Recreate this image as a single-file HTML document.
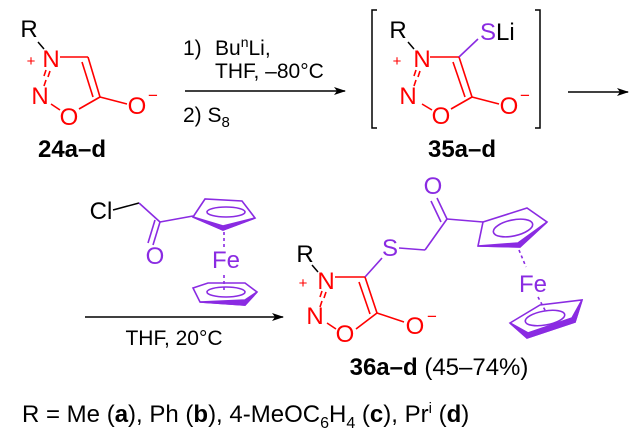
<!DOCTYPE html>
<html><head><meta charset="utf-8"><style>
html,body{margin:0;padding:0;background:#fff;}
svg{display:block;font-family:"Liberation Sans",sans-serif;}
</style></head><body>
<svg width="631" height="435" viewBox="0 0 631 435" xmlns="http://www.w3.org/2000/svg">
<defs><marker id="ah" markerWidth="12" markerHeight="8" refX="11" refY="4" orient="auto" markerUnits="userSpaceOnUse"><path d="M0,0 L12,4 L0,8 L3,4z" fill="#000"/></marker></defs>
<g font-size="24" text-anchor="middle">
<!-- 24 -->
<text x="29" y="37">R</text>
<line x1="38" y1="42" x2="44" y2="49" stroke="#000" stroke-width="1.5"/>
<g fill="#f00">
<text x="51" y="67">N</text><text x="31" y="66" font-size="15">+</text>
<text x="40" y="104">N</text><text x="69" y="125">O</text>
<text x="137" y="114">O</text><text x="153" y="101" font-size="17">−</text>
</g>
<g stroke="#f00" stroke-width="1.6" fill="none">
<line x1="60" y1="57" x2="88" y2="57"/><line x1="88" y1="57" x2="100" y2="97"/><line x1="82" y1="62" x2="93" y2="97"/>
<line x1="100" y1="97" x2="127" y2="104"/><line x1="100" y1="97" x2="79" y2="109"/><line x1="60" y1="110" x2="51" y2="104"/>
<line x1="46" y1="70" x2="44" y2="76"/><line x1="46" y1="80" x2="44" y2="86"/><line x1="50" y1="71" x2="48" y2="77"/>
</g>
<text x="72" y="157" font-weight="bold">24a–d</text>
<!-- 35 -->
<text x="398" y="38">R</text>
<line x1="408" y1="42" x2="414" y2="49" stroke="#000" stroke-width="1.5"/>
<g fill="#f00">
<text x="422" y="67">N</text><text x="397" y="66" font-size="15">+</text>
<text x="408" y="104">N</text><text x="441" y="124">O</text>
<text x="509" y="114">O</text><text x="525" y="101" font-size="17">−</text>
</g>
<text x="480" y="40" text-anchor="start"><tspan fill="#8a2be2">S</tspan>Li</text>
<g stroke="#f00" stroke-width="1.6" fill="none">
<line x1="430" y1="57" x2="459" y2="57"/><line x1="459" y1="57" x2="472" y2="97"/><line x1="453" y1="62" x2="465" y2="97"/>
<line x1="472" y1="97" x2="499" y2="104"/><line x1="472" y1="97" x2="451" y2="109"/><line x1="432" y1="110" x2="422" y2="104"/>
<line x1="416" y1="70" x2="414" y2="76"/><line x1="416" y1="80" x2="414" y2="86"/><line x1="420" y1="71" x2="418" y2="77"/>
</g>
<line x1="459" y1="57" x2="478" y2="39" stroke="#8a2be2" stroke-width="1.6"/>
<text x="462" y="157" font-weight="bold">35a–d</text>
<!-- ferrocene 1 -->
<text x="101" y="219">Cl</text>
<text x="155" y="264" fill="#8a2be2">O</text>
<text x="226" y="268" fill="#8a2be2">Fe</text>
<!-- 36 -->
<text x="305" y="262">R</text>
<g fill="#f00">
<text x="326" y="289">N</text><text x="303" y="288" font-size="15">+</text>
<text x="315" y="324">N</text><text x="345" y="342">O</text>
<text x="415" y="334">O</text><text x="432" y="322" font-size="17">−</text>
</g>
<text x="390" y="256" fill="#8a2be2">S</text>
<text x="433" y="194" fill="#8a2be2">O</text>
<text x="533" y="292" fill="#8a2be2">Fe</text>
<text x="439" y="375"><tspan font-weight="bold">36a–d</tspan> (45–74%)</text>
</g>
<!-- reagents 1 -->
<g font-size="21">
<text x="183" y="55">1)</text>
<text x="215" y="55">Bu<tspan font-size="14" dy="-8">n</tspan><tspan dy="8">Li,</tspan></text>
<text x="215" y="78">THF, –80°C</text>
<text x="183" y="122">2) S<tspan font-size="15" dy="5">8</tspan></text>
<text x="174" y="345" text-anchor="middle">THF, 20°C</text>
</g>
<line x1="185" y1="91" x2="345" y2="91" stroke="#000" stroke-width="1.5" marker-end="url(#ah)"/>
<path d="M377,10 H372 V128 H377 M535,10 H540 V128 H535" stroke="#000" stroke-width="1.5" fill="none"/>
<line x1="568" y1="92" x2="628" y2="92" stroke="#000" stroke-width="1.5" marker-end="url(#ah)"/>
<line x1="113" y1="210" x2="139" y2="203" stroke="#000" stroke-width="1.5"/>
<g stroke="#8a2be2" stroke-width="1.6" fill="none">
<line x1="139" y1="203" x2="160" y2="222"/><line x1="160" y1="222" x2="193" y2="216"/>
<line x1="160" y1="222" x2="153" y2="245"/><line x1="155" y1="220" x2="148" y2="243"/>
<path d="M193,217 L205,199 L242,201 L255,218 L223,230z"/>
<path d="M193,217 L223,230 L255,218 L223,226z" fill="#8a2be2"/>
<ellipse cx="226" cy="212" rx="19" ry="5"/>
<line x1="224" y1="232" x2="224" y2="250" stroke-dasharray="3,3"/>
<line x1="224" y1="275" x2="224" y2="293" stroke-dasharray="3,3"/>
<path d="M193,288 L208,283 L245,283 L257,292 L245,305 L200,302z"/>
<path d="M200,302 L245,305 L257,292 L245,300z" fill="#8a2be2"/>
<ellipse cx="226" cy="292" rx="19" ry="5"/>
</g>
<line x1="85" y1="317" x2="283" y2="317" stroke="#000" stroke-width="1.5" marker-end="url(#ah)"/>
<line x1="312" y1="265" x2="318" y2="272" stroke="#000" stroke-width="1.5"/>
<g stroke="#f00" stroke-width="1.6" fill="none">
<line x1="335" y1="277" x2="365" y2="277"/><line x1="365" y1="277" x2="377" y2="313"/><line x1="359" y1="282" x2="370" y2="314"/>
<line x1="377" y1="313" x2="404" y2="322"/><line x1="377" y1="313" x2="356" y2="329"/><line x1="336" y1="329" x2="327" y2="323"/>
<line x1="322" y1="291" x2="320" y2="297"/><line x1="322" y1="301" x2="320" y2="307"/><line x1="326" y1="292" x2="324" y2="298"/>
</g>
<g stroke="#8a2be2" stroke-width="1.6" fill="none">
<line x1="365" y1="277" x2="382" y2="258"/>
<line x1="399" y1="248" x2="425" y2="250"/><line x1="425" y1="250" x2="447" y2="219"/>
<line x1="447" y1="219" x2="437" y2="198"/><line x1="441" y1="222" x2="431" y2="201"/>
<line x1="447" y1="219" x2="483" y2="222"/>
<path d="M483,222 L527,208 L547,222 L520,247 L478,246z"/>
<path d="M478,246 L520,247 L547,222 L518,243z" fill="#8a2be2"/>
<ellipse cx="513" cy="228" rx="20" ry="8" transform="rotate(-12 513 228)"/>
<line x1="519" y1="250" x2="526" y2="267" stroke-dasharray="3,3"/>
<line x1="538" y1="297" x2="546" y2="312" stroke-dasharray="3,3"/>
<path d="M510,323 L540,305 L582,300 L575,322 L527,338z"/>
<path d="M510,323 L527,338 L575,322 L582,300 L572,318 L528,333z" fill="#8a2be2"/>
<ellipse cx="545" cy="318" rx="20" ry="7" transform="rotate(-10 545 318)"/>
</g>
<text x="22" y="422" font-size="24">R = Me (<tspan font-weight="bold">a</tspan>), Ph (<tspan font-weight="bold">b</tspan>), 4-MeOC<tspan font-size="16" dy="6">6</tspan><tspan dy="-6">H</tspan><tspan font-size="16" dy="6">4</tspan><tspan dy="-6"> (</tspan><tspan font-weight="bold">c</tspan>), Pr<tspan font-size="15" dy="-9">i</tspan><tspan dy="9"> (</tspan><tspan font-weight="bold">d</tspan>)</text>
</svg>
</body></html>
